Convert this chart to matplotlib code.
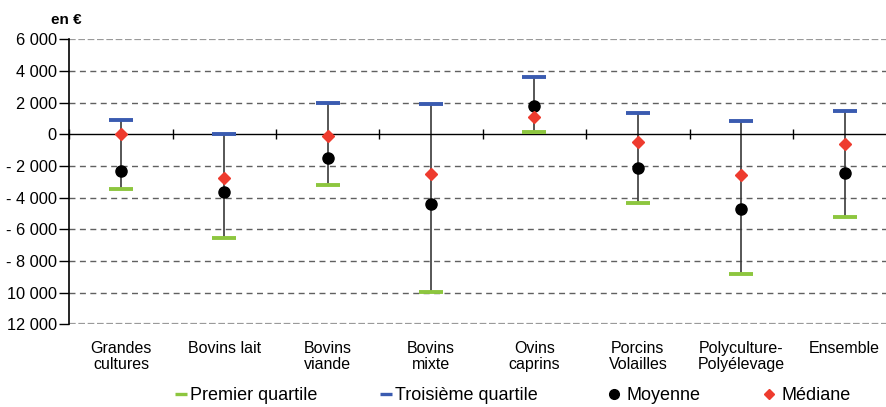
import matplotlib
matplotlib.use("Agg")
import matplotlib.pyplot as plt
from matplotlib.lines import Line2D
from matplotlib.transforms import blended_transform_factory
import numpy as np

plt.rcParams['font.family'] = ['Liberation Sans', 'DejaVu Sans']

categories = ["Grandes\ncultures", "Bovins lait", "Bovins\nviande", "Bovins\nmixte",
              "Ovins\ncaprins", "Porcins\nVolailles", "Polyculture-\nPolyélevage", "Ensemble"]
q1 = [-3450, -6540, -3180, -9950, 150, -4330, -8820, -5240]
q3 = [880, 50, 2000, 1940, 3640, 1370, 860, 1450]
mean = [-2290, -3660, -1490, -4400, 1770, -2120, -4740, -2460]
median = [20, -2750, -80, -2480, 1075, -460, -2590, -630]
yticks = [6000, 4000, 2000, 0, -2000, -4000, -6000, -8000, -10000, -12000]
ytick_labels = ["6 000", "4 000", "2 000", "0", "- 2 000", "- 4 000", "- 6 000",
                "- 8 000", "10 000", "12 000"]
legend_labels = ["Premier quartile", "Troisième quartile", "Moyenne", "Médiane"]

green = "#8DC63F"
blue = "#3A5BB0"
red = "#EE3B2E"

fig = plt.figure(figsize=(8.87, 4.07), dpi=100)
W, H = 887, 407
ax = fig.add_axes([69.3 / W, 1 - 324.3 / H, 827 / W, 285 / H])

n = len(categories)
x = np.arange(n)
ax.set_xlim(-0.5, n - 0.5)
ax.set_ylim(-12000, 6000)

# gridlines
for yv in yticks:
    if yv == 0:
        continue
    if yv in (6000, -12000):
        ax.axhline(yv, color="#9a9a9a", lw=1.6, ls=(0, (3, 1.2)), zorder=1)
    else:
        ax.axhline(yv, color="#606060", lw=1.0, ls=(0, (4.3, 3.2)), zorder=1)

for s in ["top", "right"]:
    ax.spines[s].set_visible(False)
ax.spines["left"].set_linewidth(1.2)
ax.spines["bottom"].set_position(("data", 0))
ax.spines["bottom"].set_linewidth(1.0)
ax.set_xticks(np.arange(n + 1) - 0.5)
ax.set_xticklabels([])
ax.tick_params(axis="x", direction="inout", length=7, width=1)
ax.set_yticks(yticks)
ax.set_yticklabels(ytick_labels, fontsize=11.8)
ax.tick_params(axis="y", direction="out", length=7, width=1, pad=2)

# whiskers
ax.vlines(x, q1, q3, color="#3a3a3a", lw=1.2, zorder=2)
ax.plot(x, q1, ls="none", marker="_", markersize=17, markeredgewidth=2.8, color=green, zorder=3)
ax.plot(x, q3, ls="none", marker="_", markersize=17, markeredgewidth=2.8, color=blue, zorder=3)
ax.plot(x, mean, ls="none", marker="o", markersize=8, color="black", zorder=4)
ax.plot(x, median, ls="none", marker="D", markersize=6.3, color=red, zorder=5)

# category labels
tr = blended_transform_factory(ax.transData, ax.transAxes)
for xi, lab in zip(x, categories):
    ax.text(xi, -0.058, lab, transform=tr, ha="center", va="top", fontsize=11.5,
            linespacing=1.08)

fig.text(66 / W, 1 - 20 / H, "en €", fontsize=11, fontweight="bold", ha="center", va="center")

# legend (one entry per position)
handles = [
    Line2D([], [], ls="none", marker="_", markersize=9, markeredgewidth=2.4, color=green),
    Line2D([], [], ls="none", marker="_", markersize=9, markeredgewidth=2.4, color=blue),
    Line2D([], [], ls="none", marker="o", markersize=7, color="black"),
    Line2D([], [], ls="none", marker="D", markersize=5.5, color=red),
]
anchors = [173, 378, 606, 761]
pads = [0.05, 0.05, 0.25, 0.25]
for h, lab, ax_x, pd in zip(handles, legend_labels, anchors, pads):
    fig.legend([h], [lab], loc="center left", bbox_to_anchor=(ax_x / W, 1 - 396 / H),
               frameon=False, fontsize=13, handlelength=0.9, handletextpad=pd,
               borderaxespad=0, borderpad=0)

fig.savefig("out.png", dpi=100)
